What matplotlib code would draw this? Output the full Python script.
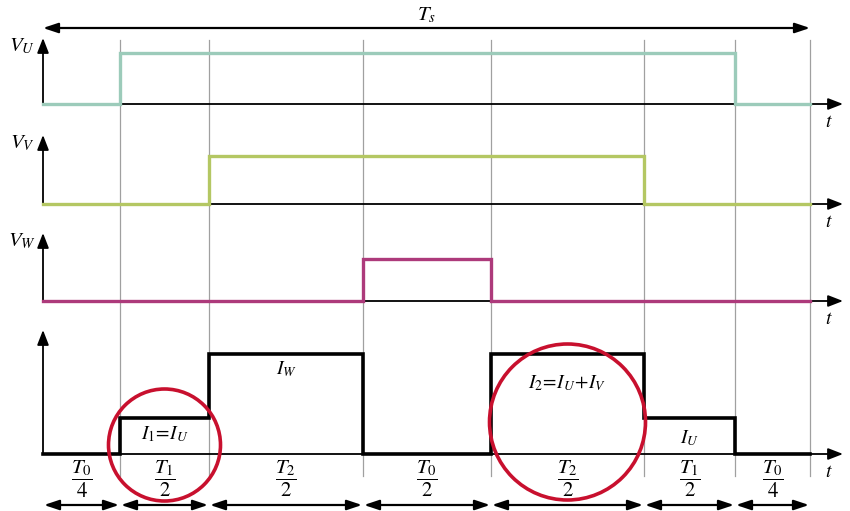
import matplotlib.pyplot as plt
import numpy as np
from matplotlib.patches import Circle

plt.rcParams["mathtext.fontset"] = "stix"
plt.rcParams["font.family"] = "STIXGeneral"

# segment durations along one switching period (drawing units)
durations = [77, 89, 154, 128, 153, 91, 75]
seg_labels = [r"$\dfrac{T_0}{4}$", r"$\dfrac{T_1}{2}$", r"$\dfrac{T_2}{2}$",
              r"$\dfrac{T_0}{2}$", r"$\dfrac{T_2}{2}$", r"$\dfrac{T_1}{2}$",
              r"$\dfrac{T_0}{4}$"]

# switching states per segment
state_u = [0, 1, 1, 1, 1, 1, 0]
state_v = [0, 0, 1, 1, 1, 0, 0]
state_w = [0, 0, 0, 1, 0, 0, 0]
# dc-link current per segment (relative)
current = [0, 0.36, 1.0, 0, 1.0, 0.36, 0]

current_labels = [r"$I_1\!=\!I_U$", r"$I_W$", r"$I_2\!=\!I_U\!+\!I_V$", r"$I_U$"]
current_label_seg = [1, 2, 4, 5]
current_label_y = [434, 369, 383, 438]

# layout
x0 = 43
edges = x0 + np.concatenate([[0], np.cumsum(durations)])
rows = [
    # name, state, baseline, height, colour, axis top
    (r"$V_U$", state_u, 104, 51, "#9ccbba", 38),
    (r"$V_V$", state_v, 204, 48, "#b4c763", 135),
    (r"$V_W$", state_w, 301, 42, "#ad3a7b", 233),
]
i_base, i_height, i_top = 454, 100, 330

fig = plt.figure(figsize=(8.5, 5.11), dpi=100)
ax = fig.add_axes([0, 0, 1, 1])
ax.set_xlim(0, 850)
ax.set_ylim(511, 0)
ax.axis("off")

arrow_kw = dict(arrowstyle="-|>,head_length=0.9,head_width=0.35",
                color="black", lw=1.3, shrinkA=0, shrinkB=0)
dbl_kw = dict(arrowstyle="<|-|>,head_length=0.9,head_width=0.3",
              color="black", lw=1.6, shrinkA=0, shrinkB=0)

# grid lines
for x in edges[1:]:
    ax.plot([x, x], [40, 476], color="#a0a0a0", lw=0.9, zorder=1)

# Ts arrow
ax.annotate("", xy=(edges[-1], 28), xytext=(x0, 28), arrowprops=dbl_kw)
ax.text((x0 + edges[-1]) / 2, 15, r"$T_s$", fontsize=15, ha="center", va="center")


def draw_axes(base, top, label=None):
    ax.annotate("", xy=(843, base), xytext=(x0, base), arrowprops=arrow_kw, zorder=2)
    ax.annotate("", xy=(x0, top), xytext=(x0, base), arrowprops=arrow_kw, zorder=2)
    ax.text(829, base + 18, r"$t$", fontsize=14, ha="center", va="center")
    if label:
        ax.text(22, top + 8, label, fontsize=15, ha="center", va="center")


for name, state, base, height, color, top in rows:
    draw_axes(base, top, name)
    ys = base - np.array(state) * height
    ax.step(edges, np.append(ys, ys[-1]), where="post", color=color, lw=2.4,
            zorder=3, solid_joinstyle="miter")

# current row
draw_axes(i_base, i_top)
iy = i_base - np.array(current) * i_height
ax.step(edges, np.append(iy, iy[-1]), where="post", color="black", lw=2.6,
        zorder=3, solid_joinstyle="miter")

mids = (edges[:-1] + edges[1:]) / 2
for lab, seg, y in zip(current_labels, current_label_seg, current_label_y):
    ax.text(mids[seg], y, lab, fontsize=14, ha="center", va="center")

# segment duration labels and arrows
for i, lab in enumerate(seg_labels):
    ax.text(mids[i], 479, lab, fontsize=15, ha="center", va="center")
    ax.annotate("", xy=(edges[i + 1] - 1, 505), xytext=(edges[i] + 1, 505),
                arrowprops=dbl_kw)

# highlight circles
for seg, cy, r in [(1, 445, 56), (4, 422, 78)]:
    ax.add_patch(Circle((mids[seg], cy), r, fill=False, ec="#c8102e", lw=2.6, zorder=4))

fig.savefig("out.png", dpi=100)
